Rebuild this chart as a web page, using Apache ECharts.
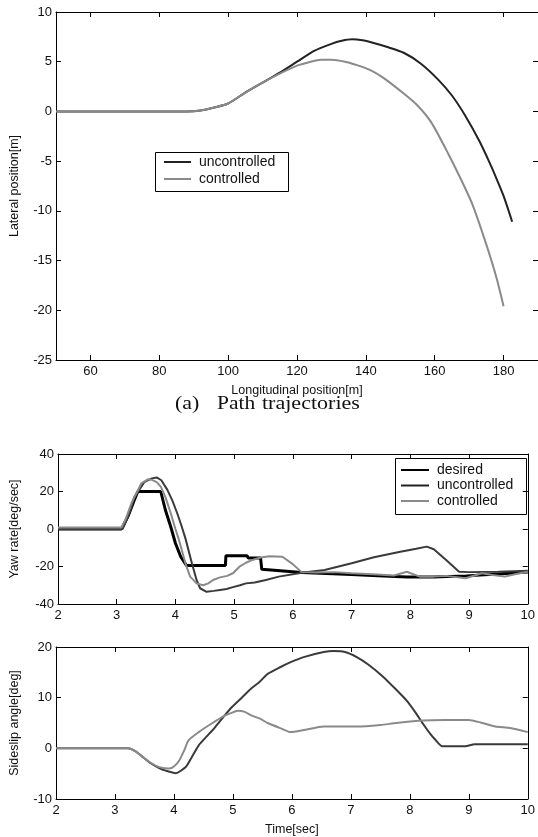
<!DOCTYPE html>
<html>
<head>
<meta charset="utf-8">
<script src="https://cdn.jsdelivr.net/npm/echarts@6/dist/echarts.min.js"></script>
<style>
  html, body { margin: 0; padding: 0; background: #fff; }
  #chart { width: 538px; height: 837px; }
</style>
</head>
<body>
<div id="chart"></div>
<script>
// ---- Path trajectories: longitudinal [m] vs lateral [m] ----
const pathUncontrolledX = [50, 88, 92, 96, 100, 105, 110, 115, 120, 125, 130, 133, 136, 139, 142, 146, 151, 156, 161, 165, 169, 173, 176, 178, 180, 182.5];
const pathUncontrolledY = [0, 0, 0.1, 0.4, 0.8, 1.9, 2.9, 3.9, 5.0, 6.1, 6.8, 7.1, 7.25, 7.15, 6.9, 6.5, 5.9, 4.8, 3.2, 1.6, -0.5, -3.0, -5.2, -6.8, -8.5, -11.1];
const pathControlledX = [50, 88, 92, 96, 100, 105, 110, 115, 120, 124, 127, 130, 134, 137, 141, 145, 151, 155, 159, 164, 168, 171, 175, 178, 180];
const pathControlledY = [0, 0, 0.1, 0.4, 0.8, 1.9, 2.9, 3.8, 4.6, 5.0, 5.2, 5.2, 5.0, 4.7, 4.2, 3.4, 1.8, 0.6, -1.1, -4.3, -7.1, -9.4, -13.4, -16.8, -19.6];

// ---- Yaw rate [deg/sec] vs time [sec] ----
const yawDesiredT = [2, 3.08, 3.19, 3.30, 3.36, 3.75, 3.83, 3.92, 4.00, 4.09, 4.19, 4.85, 4.86, 5.22, 5.24, 5.45, 5.47, 6.15, 7.0, 7.45, 7.95, 8.4, 8.95, 9.5, 10];
const yawDesiredV = [0, 0, 6.6, 15.5, 20, 20, 10, 1.2, -7.6, -14.8, -19.5, -19.5, -14.2, -14.2, -15.5, -15.5, -21.5, -23.2, -24.3, -25, -25.6, -25.6, -25, -24, -23];
const yawUncontrolledT = [2, 3.1, 3.2, 3.3, 3.47, 3.6, 3.68, 3.76, 3.86, 3.95, 4.03, 4.1, 4.17, 4.28, 4.36, 4.42, 4.53, 4.65, 4.76, 4.87, 4.98, 5.1, 5.2, 5.35, 5.54, 5.76, 6.15, 6.54, 7.0, 7.38, 7.83, 8.1, 8.28, 8.4, 8.61, 8.83, 9.0, 9.5, 10];
const yawUncontrolledV = [0, 0, 7, 17, 25, 27, 27.5, 26, 21, 15, 8.4, 2, -5, -18.3, -27.2, -31.6, -33.5, -33, -32.5, -32, -31, -30, -29, -28.5, -27.2, -25.4, -23.3, -21.9, -18.3, -15.1, -12.1, -10.5, -9.4, -10.8, -16.5, -22.8, -23, -22.8, -22.3];
const yawControlledT = [2, 3.08, 3.15, 3.25, 3.42, 3.53, 3.6, 3.68, 3.75, 3.83, 3.92, 4.0, 4.06, 4.17, 4.25, 4.36, 4.47, 4.56, 4.64, 4.76, 4.88, 4.98, 5.09, 5.2, 5.31, 5.45, 5.6, 5.82, 5.98, 6.15, 6.4, 6.71, 7.0, 7.44, 7.72, 7.94, 8.16, 8.4, 8.61, 8.94, 9.22, 9.4, 9.61, 9.8, 10];
const yawControlledV = [0.8, 0.8, 5, 13.7, 24.4, 26.5, 26.2, 25, 22.6, 17, 8.4, 0, -5.9, -18.3, -25.4, -29, -30, -29, -27.2, -25.8, -25, -23.6, -20.1, -18, -16.5, -15.2, -14.5, -14.8, -18.3, -23, -23.2, -23, -23.6, -24.3, -24.8, -22.8, -25.4, -25.4, -25, -26.3, -23.6, -24.5, -25.4, -24, -22.8];

// ---- Sideslip angle [deg] vs time [sec] ----
const slipUncontrolledT = [2, 3.22, 3.35, 3.47, 3.6, 3.75, 3.86, 4.03, 4.2, 4.3, 4.42, 4.56, 4.7, 4.84, 4.98, 5.15, 5.31, 5.45, 5.59, 5.8, 5.98, 6.2, 6.54, 6.71, 6.9, 7.1, 7.3, 7.55, 7.75, 7.94, 8.1, 8.22, 8.35, 8.44, 8.55, 8.94, 9.1, 10];
const slipUncontrolledV = [0, 0, -0.6, -1.7, -2.9, -3.9, -4.4, -4.9, -3.7, -1.8, 0.6, 2.4, 4.2, 6.2, 8.1, 10.0, 11.8, 13.1, 14.7, 16.0, 17.0, 18.0, 19.0, 19.2, 19.0, 18.0, 16.5, 14.1, 11.8, 9.5, 7.0, 4.9, 2.8, 1.6, 0.4, 0.4, 0.8, 0.8];
const slipControlledT = [2, 3.22, 3.35, 3.47, 3.6, 3.75, 3.92, 4.0, 4.09, 4.17, 4.25, 4.42, 4.64, 4.87, 5.0, 5.09, 5.2, 5.31, 5.45, 5.59, 5.8, 5.98, 6.2, 6.54, 7.1, 7.5, 7.77, 8.22, 8.6, 9.0, 9.2, 9.45, 9.7, 10];
const slipControlledV = [0, 0, -0.6, -1.7, -2.8, -3.7, -4.0, -3.6, -2.4, -0.5, 1.6, 3.2, 4.9, 6.5, 7.1, 7.4, 7.2, 6.5, 5.9, 5.0, 4.0, 3.2, 3.6, 4.3, 4.3, 4.6, 5.0, 5.5, 5.6, 5.6, 5.1, 4.3, 4.0, 3.2];

// ---- Axis ticks ----
const pathXTicks = [60, 80, 100, 120, 140, 160, 180];
const pathYTicks = [-25, -20, -15, -10, -5, 0, 5, 10];
const timeTicks = [2, 3, 4, 5, 6, 7, 8, 9, 10];
const yawTicks = [-40, -20, 0, 20, 40];
const slipTicks = [-10, 0, 10, 20];

const FONT = '"Liberation Sans", Arial, Helvetica, sans-serif';
const SERIF = '"Liberation Serif", "DejaVu Serif", serif';
const INK = '#111';

const zip = (a, b) => a.map((v, i) => [v, b[i]]);

// Boxed axes: a labelled axis on one side and a bare, ticked one opposite.
function axisPair(dim, gridIndex, min, max, ticks, name, nameGap) {
  const base = {
    type: 'value', gridIndex, min, max,
    axisLine: { show: true, onZero: false, lineStyle: { color: '#000', width: 1 } },
    axisTick: { show: true, inside: true, length: 5, customValues: ticks, lineStyle: { color: '#000', width: 1 } },
    splitLine: { show: false },
    axisPointer: { show: false }
  };
  const main = Object.assign({}, base, {
    position: dim === 'x' ? 'bottom' : 'left',
    axisLabel: { show: true, customValues: ticks, color: INK, fontSize: 13, fontFamily: FONT, margin: dim === 'x' ? 5 : 4 },
    name, nameLocation: 'middle', nameGap,
    nameTextStyle: { color: INK, fontSize: 12.5, fontFamily: FONT }
  });
  if (dim === 'y') main.nameRotate = 90;
  const opposite = Object.assign({}, base, {
    position: dim === 'x' ? 'top' : 'right',
    axisLabel: { show: false }
  });
  return [main, opposite];
}

const xAxes = [
  ...axisPair('x', 0, 50, 190, pathXTicks, 'Longitudinal position[m]', 24),
  ...axisPair('x', 1, 2, 10, timeTicks, '', 0),
  ...axisPair('x', 2, 2, 10, timeTicks, 'Time[sec]', 24)
];
const yAxes = [
  ...axisPair('y', 0, -25, 10, pathYTicks, 'Lateral position[m]', 35),
  ...axisPair('y', 1, -40, 40, yawTicks, 'Yaw rate[deg/sec]', 37),
  ...axisPair('y', 2, -10, 20, slipTicks, 'Sideslip angle[deg]', 35)
];

function line(name, data, xi, yi, color, width, smooth) {
  return {
    type: 'line', name, data, xAxisIndex: xi, yAxisIndex: yi,
    symbol: 'none', showSymbol: false, clip: true,
    smooth: smooth || false,
    lineStyle: { color, width }, itemStyle: { color },
    emphasis: { disabled: true }, animation: false
  };
}

const DARK = '#222';
const MID = '#3a3a3a';
const LIGHT = '#8a8a8a';

// Legends show plain line samples only
const legendCommon = {
  orient: 'vertical', padding: 0, selectedMode: false,
  itemStyle: { opacity: 0 },
  textStyle: { color: INK, fontSize: 14, fontFamily: FONT, padding: [0, 0, 0, 3] }
};

// Caption pieces, slightly widened like the typeset figure caption
const captionStyle = { fill: '#111', font: '19px ' + SERIF, textVerticalAlign: 'top' };

const option = {
  animation: false,
  backgroundColor: '#fff',
  grid: [
    { left: 55.5, top: 12, width: 482.5, height: 348, show: false },
    { left: 55.5, top: 454, width: 477.5, height: 150, show: false },
    { left: 55.5, top: 647, width: 477.5, height: 152, show: false }
  ],
  xAxis: xAxes,
  yAxis: yAxes,
  legend: [
    Object.assign({}, legendCommon, {
      data: ['uncontrolled', 'controlled'],
      left: 163, top: 155, itemWidth: 27, itemHeight: 16, itemGap: 3
    }),
    Object.assign({}, legendCommon, {
      data: ['desired', 'uncontrolled', 'controlled'],
      left: 400, top: 463, itemWidth: 28, itemHeight: 16, itemGap: 1.5
    })
  ],
  graphic: [
    { type: 'rect', shape: { x: 155.5, y: 152.5, width: 133, height: 39 }, style: { fill: 'none', stroke: '#000', lineWidth: 1 }, z: 100 },
    { type: 'rect', shape: { x: 395.5, y: 458.5, width: 131, height: 56 }, style: { fill: 'none', stroke: '#000', lineWidth: 1 }, z: 100 },
    { type: 'text', x: 175, y: 395, scaleX: 1.15, style: Object.assign({ text: '(a)' }, captionStyle) },
    { type: 'text', x: 217, y: 395, scaleX: 1.13, style: Object.assign({ text: 'Path' }, captionStyle) },
    { type: 'text', x: 262, y: 395, scaleX: 1.16, style: Object.assign({ text: 'trajectories' }, captionStyle) }
  ],
  series: [
    line('uncontrolled', zip(pathUncontrolledX, pathUncontrolledY), 0, 0, DARK, 2, 0.25),
    line('controlled', zip(pathControlledX, pathControlledY), 0, 0, LIGHT, 2, 0.25),
    line('desired', zip(yawDesiredT, yawDesiredV), 2, 2, '#000', 3),
    line('uncontrolled', zip(yawUncontrolledT, yawUncontrolledV), 2, 2, MID, 2),
    line('controlled', zip(yawControlledT, yawControlledV), 2, 2, LIGHT, 2),
    line('uncontrolled', zip(slipUncontrolledT, slipUncontrolledV), 4, 4, MID, 2, 0.2),
    line('controlled', zip(slipControlledT, slipControlledV), 4, 4, LIGHT, 2, 0.2)
  ]
};

const chart = echarts.init(document.getElementById('chart'), null, { renderer: 'canvas' });
chart.setOption(option);
</script>
</body>
</html>
